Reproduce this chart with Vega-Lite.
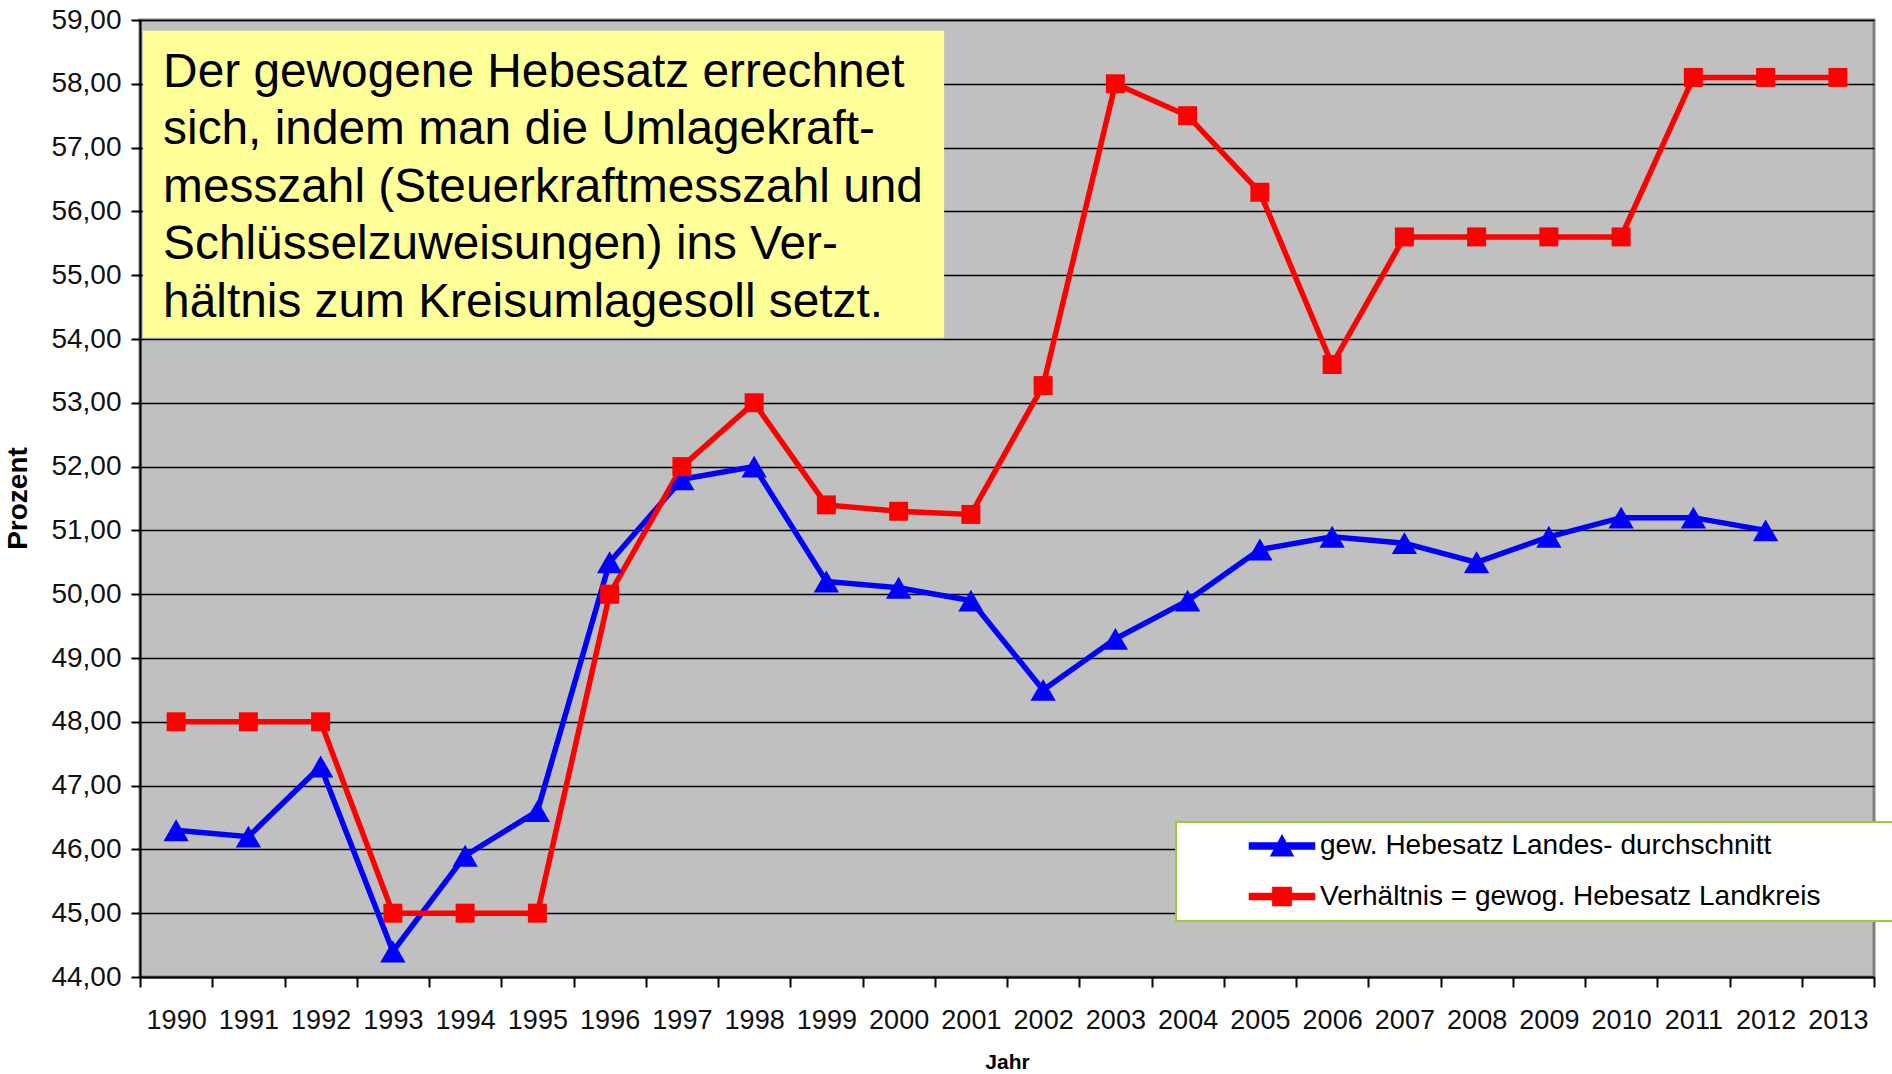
{
  "$schema": "https://vega.github.io/schema/vega-lite/v6.json",
  "width": 1734,
  "height": 957,
  "autosize": "none",
  "padding": {"left": 140, "top": 20, "right": 18, "bottom": 97},
  "background": "white",
  "config": {
    "font": "Liberation Sans",
    "view": {"stroke": "#808080", "strokeWidth": 3, "fill": "#C0C0C0"},
    "axisY": {
      "title": "Prozent", "titleFontSize": 28, "titleFontWeight": "bold", "titleColor": "black",
      "titleAngle": 270, "titleX": -122, "titleY": 478, "titleBaseline": "middle", "titleAlign": "center",
      "labelFontSize": 28, "labelPadding": 10, "labelColor": "#111",
      "tickSize": 9, "tickWidth": 2, "tickColor": "black",
      "grid": true, "gridColor": "black", "gridWidth": 1.5,
      "domainColor": "black", "domainWidth": 2
    }
  },
  "datasets": {
    "reihen": [
      {"Jahr": "1990", "Serie": "gew. Hebesatz Landes- durchschnitt", "Wert": 46.3},
      {"Jahr": "1991", "Serie": "gew. Hebesatz Landes- durchschnitt", "Wert": 46.2},
      {"Jahr": "1992", "Serie": "gew. Hebesatz Landes- durchschnitt", "Wert": 47.3},
      {"Jahr": "1993", "Serie": "gew. Hebesatz Landes- durchschnitt", "Wert": 44.4},
      {"Jahr": "1994", "Serie": "gew. Hebesatz Landes- durchschnitt", "Wert": 45.9},
      {"Jahr": "1995", "Serie": "gew. Hebesatz Landes- durchschnitt", "Wert": 46.6},
      {"Jahr": "1996", "Serie": "gew. Hebesatz Landes- durchschnitt", "Wert": 50.5},
      {"Jahr": "1997", "Serie": "gew. Hebesatz Landes- durchschnitt", "Wert": 51.8},
      {"Jahr": "1998", "Serie": "gew. Hebesatz Landes- durchschnitt", "Wert": 52.0},
      {"Jahr": "1999", "Serie": "gew. Hebesatz Landes- durchschnitt", "Wert": 50.2},
      {"Jahr": "2000", "Serie": "gew. Hebesatz Landes- durchschnitt", "Wert": 50.1},
      {"Jahr": "2001", "Serie": "gew. Hebesatz Landes- durchschnitt", "Wert": 49.9},
      {"Jahr": "2002", "Serie": "gew. Hebesatz Landes- durchschnitt", "Wert": 48.5},
      {"Jahr": "2003", "Serie": "gew. Hebesatz Landes- durchschnitt", "Wert": 49.3},
      {"Jahr": "2004", "Serie": "gew. Hebesatz Landes- durchschnitt", "Wert": 49.9},
      {"Jahr": "2005", "Serie": "gew. Hebesatz Landes- durchschnitt", "Wert": 50.7},
      {"Jahr": "2006", "Serie": "gew. Hebesatz Landes- durchschnitt", "Wert": 50.9},
      {"Jahr": "2007", "Serie": "gew. Hebesatz Landes- durchschnitt", "Wert": 50.8},
      {"Jahr": "2008", "Serie": "gew. Hebesatz Landes- durchschnitt", "Wert": 50.5},
      {"Jahr": "2009", "Serie": "gew. Hebesatz Landes- durchschnitt", "Wert": 50.9},
      {"Jahr": "2010", "Serie": "gew. Hebesatz Landes- durchschnitt", "Wert": 51.2},
      {"Jahr": "2011", "Serie": "gew. Hebesatz Landes- durchschnitt", "Wert": 51.2},
      {"Jahr": "2012", "Serie": "gew. Hebesatz Landes- durchschnitt", "Wert": 51.0},
      {"Jahr": "1990", "Serie": "Verhältnis = gewog. Hebesatz Landkreis", "Wert": 48.0},
      {"Jahr": "1991", "Serie": "Verhältnis = gewog. Hebesatz Landkreis", "Wert": 48.0},
      {"Jahr": "1992", "Serie": "Verhältnis = gewog. Hebesatz Landkreis", "Wert": 48.0},
      {"Jahr": "1993", "Serie": "Verhältnis = gewog. Hebesatz Landkreis", "Wert": 45.0},
      {"Jahr": "1994", "Serie": "Verhältnis = gewog. Hebesatz Landkreis", "Wert": 45.0},
      {"Jahr": "1995", "Serie": "Verhältnis = gewog. Hebesatz Landkreis", "Wert": 45.0},
      {"Jahr": "1996", "Serie": "Verhältnis = gewog. Hebesatz Landkreis", "Wert": 50.0},
      {"Jahr": "1997", "Serie": "Verhältnis = gewog. Hebesatz Landkreis", "Wert": 52.0},
      {"Jahr": "1998", "Serie": "Verhältnis = gewog. Hebesatz Landkreis", "Wert": 53.0},
      {"Jahr": "1999", "Serie": "Verhältnis = gewog. Hebesatz Landkreis", "Wert": 51.4},
      {"Jahr": "2000", "Serie": "Verhältnis = gewog. Hebesatz Landkreis", "Wert": 51.3},
      {"Jahr": "2001", "Serie": "Verhältnis = gewog. Hebesatz Landkreis", "Wert": 51.25},
      {"Jahr": "2002", "Serie": "Verhältnis = gewog. Hebesatz Landkreis", "Wert": 53.27},
      {"Jahr": "2003", "Serie": "Verhältnis = gewog. Hebesatz Landkreis", "Wert": 58.0},
      {"Jahr": "2004", "Serie": "Verhältnis = gewog. Hebesatz Landkreis", "Wert": 57.5},
      {"Jahr": "2005", "Serie": "Verhältnis = gewog. Hebesatz Landkreis", "Wert": 56.3},
      {"Jahr": "2006", "Serie": "Verhältnis = gewog. Hebesatz Landkreis", "Wert": 53.6},
      {"Jahr": "2007", "Serie": "Verhältnis = gewog. Hebesatz Landkreis", "Wert": 55.6},
      {"Jahr": "2008", "Serie": "Verhältnis = gewog. Hebesatz Landkreis", "Wert": 55.6},
      {"Jahr": "2009", "Serie": "Verhältnis = gewog. Hebesatz Landkreis", "Wert": 55.6},
      {"Jahr": "2010", "Serie": "Verhältnis = gewog. Hebesatz Landkreis", "Wert": 55.6},
      {"Jahr": "2011", "Serie": "Verhältnis = gewog. Hebesatz Landkreis", "Wert": 58.1},
      {"Jahr": "2012", "Serie": "Verhältnis = gewog. Hebesatz Landkreis", "Wert": 58.1},
      {"Jahr": "2013", "Serie": "Verhältnis = gewog. Hebesatz Landkreis", "Wert": 58.1}
    ],
    "notiz": [
      {"Text": "Der gewogene Hebesatz errechnet\nsich, indem man die Umlagekraft-\nmesszahl (Steuerkraftmesszahl und\nSchlüsselzuweisungen) ins Ver-\nhältnis zum Kreisumlagesoll setzt."}
    ]
  },
  "layer": [
    {
      "data": {"name": "notiz"},
      "layer": [
        {
          "mark": {"type": "rect", "fill": "#FFFF99"},
          "encoding": {
            "x": {"datum": 1989.54, "type": "quantitative", "scale": {"domain": [1989.5, 2013.5], "nice": false, "zero": false}, "axis": null},
            "x2": {"datum": 2000.63},
            "y": {"datum": 58.83, "type": "quantitative", "scale": {"domain": [44, 59], "nice": false, "zero": false},
                  "axis": {"title": "Prozent", "values": [44, 45, 46, 47, 48, 49, 50, 51, 52, 53, 54, 55, 56, 57, 58, 59], "labelExpr": "replace(format(datum.value, '.2f'), '.', ',')"}},
            "y2": {"datum": 54.02}
          }
        },
        {
          "mark": {"type": "text", "align": "left", "baseline": "alphabetic", "fontSize": 47.8, "lineHeight": 57.5, "lineBreak": "\n", "color": "black", "font": "Liberation Sans"},
          "encoding": {
            "x": {"datum": 1989.82, "type": "quantitative", "scale": {"domain": [1989.5, 2013.5], "nice": false, "zero": false}, "axis": null},
            "y": {"datum": 57.95, "type": "quantitative", "scale": {"domain": [44, 59], "nice": false, "zero": false},
                  "axis": {"title": "Prozent", "values": [44, 45, 46, 47, 48, 49, 50, 51, 52, 53, 54, 55, 56, 57, 58, 59], "labelExpr": "replace(format(datum.value, '.2f'), '.', ',')"}},
            "text": {"field": "Text", "type": "nominal"}
          }
        }
      ]
    },
    {
      "data": {"name": "reihen"},
      "encoding": {
        "x": {
          "field": "Jahr", "type": "ordinal",
          "scale": {"type": "band", "paddingInner": 0, "paddingOuter": 0},
          "axis": {
            "title": "Jahr", "titleFontSize": 21, "titleFontWeight": "bold", "titleColor": "black",
            "titleY": 85, "titleBaseline": "middle",
            "labelFontSize": 27, "labelAngle": 0, "labelPadding": 20, "labelColor": "#111",
            "labelOverlap": false, "labelBound": false,
            "tickSize": 10, "tickWidth": 2, "tickColor": "black", "tickBand": "extent",
            "domainColor": "black", "domainWidth": 2, "grid": false
          }
        },
        "y": {
          "field": "Wert", "type": "quantitative",
          "scale": {"domain": [44, 59], "nice": false, "zero": false},
          "axis": {"title": "Prozent", "values": [44, 45, 46, 47, 48, 49, 50, 51, 52, 53, 54, 55, 56, 57, 58, 59], "labelExpr": "replace(format(datum.value, '.2f'), '.', ',')"}
        },
        "color": {
          "field": "Serie", "type": "nominal",
          "scale": {"domain": ["gew. Hebesatz Landes- durchschnitt", "Verhältnis = gewog. Hebesatz Landkreis"], "range": ["#0000FF", "#FF0000"]},
          "legend": {
            "orient": "none", "legendX": 1036, "legendY": 802,
            "title": " ", "titleOrient": "right", "titlePadding": 70, "titleFontSize": 10,
            "fillColor": "white", "strokeColor": "#99CC33",
            "padding": 10, "labelFontSize": 28, "labelColor": "black", "labelFont": "Liberation Sans", "labelLimit": 0,
            "symbolOffset": 82, "labelOffset": 24, "rowPadding": 22.5, "symbolSize": 676,
            "encode": {
              "legend": {"update": {"strokeWidth": {"value": 2}}},
              "symbols": {
                "update": {
                  "shape": {"signal": "datum.value === 'gew. Hebesatz Landes- durchschnitt' ? 'M-2.5,-0.23L2.5,-0.23L2.5,0.23L-2.5,0.23Z M-0.85,0.75L0,-0.8L0.85,0.75Z' : 'M-2.5,-0.23L2.5,-0.23L2.5,0.23L-2.5,0.23Z M-0.7,-0.7L0.7,-0.7L0.7,0.7L-0.7,0.7Z'"},
                  "fill": {"signal": "datum.value === 'gew. Hebesatz Landes- durchschnitt' ? '#0000FF' : '#FF0000'"},
                  "stroke": {"value": "transparent"},
                  "size": {"value": 676}
                }
              }
            }
          }
        }
      },
      "layer": [
        {"mark": {"type": "line", "strokeWidth": 5.5}},
        {
          "mark": {"type": "point", "filled": true, "opacity": 1},
          "encoding": {
            "shape": {"condition": {"test": "datum.Serie === 'gew. Hebesatz Landes- durchschnitt'", "value": "triangle-up"}, "value": "square"},
            "size": {"condition": {"test": "datum.Serie === 'gew. Hebesatz Landes- durchschnitt'", "value": 640}, "value": 360}
          }
        }
      ]
    }
  ],
  "resolve": {"scale": {"x": "independent"}}
}
